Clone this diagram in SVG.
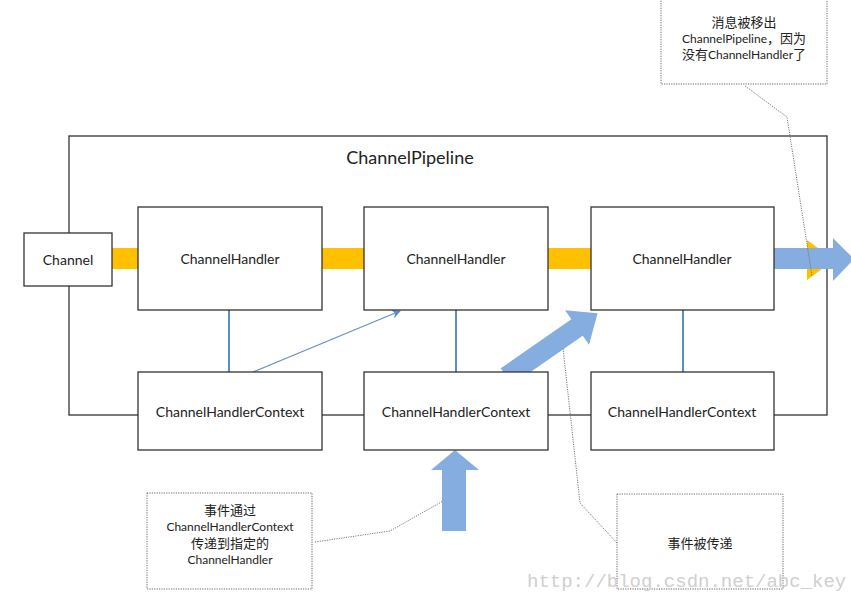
<svg xmlns="http://www.w3.org/2000/svg" width="851" height="593" viewBox="0 0 851 593">
<style>
.box{fill:#fff;stroke:#333;stroke-width:1.3}
.lbl{font-family:Lato,"Noto Sans CJK SC",sans-serif;font-size:14px;fill:#222;text-anchor:middle;dominant-baseline:central}
.note{fill:#fff;stroke:#666;stroke-width:1;stroke-dasharray:1.2 1.2}
.nt{font-family:Lato,"Noto Sans CJK SC",sans-serif;font-size:12px;fill:#222;text-anchor:middle}
.cj{font-size:13px}
.dot{fill:none;stroke:#777;stroke-width:1;stroke-dasharray:1.2 1.2}
.yel{fill:#ffc000}
.blu{fill:#86ade0}
.vl{stroke:#5b8bc8;stroke-width:2}
</style>
<defs>
<marker id="ah" viewBox="0 0 10 10" refX="9" refY="5" markerWidth="9" markerHeight="9" markerUnits="userSpaceOnUse" orient="auto">
<path d="M0,0 L10,5 L0,10 L3,5 Z" fill="#5b8bc8"/>
</marker>
</defs>
<rect width="851" height="593" fill="#fff"/>
<g id="pipeline">
<rect x="69" y="136" width="758" height="279" fill="none" stroke="#333" stroke-width="1.3"/>
<text x="410" y="157" class="lbl" style="font-size:18px">ChannelPipeline</text>
</g>
<g id="connectors">
<rect class="yel" x="112" y="248" width="26" height="21"/>
<rect class="yel" x="321" y="248" width="43" height="21"/>
<rect class="yel" x="547" y="248" width="44" height="21"/>
<polygon class="yel" points="807,240 834,260 807,280"/>
<line class="vl" x1="229" y1="310" x2="229" y2="372"/>
<line class="vl" x1="456" y1="310" x2="456" y2="372"/>
<line class="vl" x1="683" y1="310" x2="683" y2="372"/>
<line x1="253" y1="372" x2="400" y2="311" stroke="#6a90c4" stroke-width="1.3" marker-end="url(#ah)"/>
<g transform="translate(513,372) rotate(-34.8)"><path class="blu" d="M-8,-10 L78,-10 L78,-21 L103,0 L78,21 L78,10 L-8,10 Z"/></g>
<path class="blu" d="M773,248 L833,248 L833,238 L854,259 L833,281 L833,269 L773,269 Z"/>
<path class="blu" d="M442,531 L442,470 L431,470 L455,450 L479,470 L466,470 L466,531 Z"/>
<polyline class="dot" points="745,86 787,117 812,276"/>
<polyline class="dot" points="315,542 390,531 443,501"/>
<polyline class="dot" points="617,543 580,503 563,348"/>
</g>
<g id="channel"><rect class="box" x="24" y="233" width="88" height="53"/><text class="lbl" x="68" y="259">Channel</text></g>
<g id="handler1"><rect class="box" x="138" y="207" width="184" height="103"/><text class="lbl" x="230" y="258">ChannelHandler</text></g>
<g id="handler2"><rect class="box" x="364" y="207" width="184" height="103"/><text class="lbl" x="456" y="258">ChannelHandler</text></g>
<g id="handler3"><rect class="box" x="591" y="207" width="183" height="103"/><text class="lbl" x="682" y="258">ChannelHandler</text></g>
<g id="context1"><rect class="box" x="138" y="372" width="184" height="78"/><text class="lbl" x="230" y="411">ChannelHandlerContext</text></g>
<g id="context2"><rect class="box" x="364" y="372" width="184" height="78"/><text class="lbl" x="456" y="411">ChannelHandlerContext</text></g>
<g id="context3"><rect class="box" x="591" y="372" width="183" height="78"/><text class="lbl" x="682" y="411">ChannelHandlerContext</text></g>
<g id="note-top"><rect class="note" x="661" y="-1" width="166" height="85"/>
<text class="nt" x="744" y="27"><tspan class="cj">消息被移出</tspan></text>
<text class="nt" x="744" y="43">ChannelPipeline<tspan class="cj">，因为</tspan></text>
<text class="nt" x="744" y="59"><tspan class="cj">没有</tspan>ChannelHandler<tspan class="cj">了</tspan></text>
</g>
<g id="note-left"><rect class="note" x="147" y="493" width="165" height="96"/>
<text class="nt" x="230" y="515"><tspan class="cj">事件通过</tspan></text>
<text class="nt" x="230" y="531">ChannelHandlerContext</text>
<text class="nt" x="230" y="548"><tspan class="cj">传递到指定的</tspan></text>
<text class="nt" x="230" y="564">ChannelHandler</text>
</g>
<g id="note-right"><rect class="note" x="617" y="494" width="166" height="95"/>
<text class="nt" x="700" y="548"><tspan class="cj">事件被传递</tspan></text>
</g>
<text x="527" y="587" font-family="Liberation Mono,monospace" font-size="19" fill="#cfcfcf">http://blog.csdn.net/abc_key</text>
</svg>
